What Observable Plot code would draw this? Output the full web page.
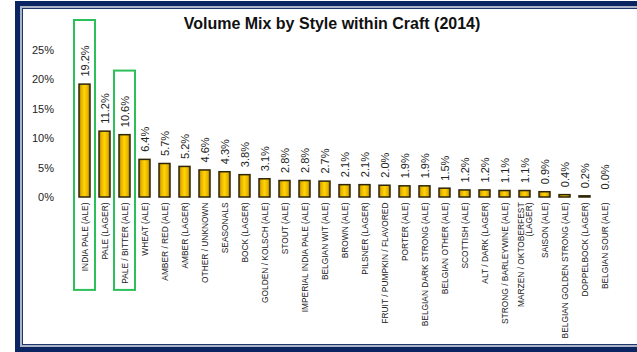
<!DOCTYPE html>
<html>
<head>
<meta charset="utf-8">
<script src="https://cdn.jsdelivr.net/npm/d3@7"></script>
<script src="https://cdn.jsdelivr.net/npm/@observablehq/plot@0.6"></script>
<style>
  html, body { margin: 0; padding: 0; background: #fff; overflow: hidden; }
  #wrap { position: relative; width: 637px; height: 352px; overflow: hidden; background: #fff; font-family: "Liberation Sans", Arial, sans-serif; }
  #chart { position: absolute; left: 0; top: 0; }
  #frame { position: absolute; left: 15px; top: 1px; width: 660px; height: 341px; border: 5px solid #0b2462; border-right: none; }
  #frame2 { position: absolute; left: 0; top: 0; right: 0; bottom: 0; border: 2px solid #aab4c6; border-right: none; }
  #frame3 { position: absolute; left: 0; top: 0; right: 0; bottom: 0; border: 1px solid #1d356c; border-right: none; }
  #title { position: absolute; left: 0; width: 664px; top: 15px; text-align: center; font-weight: bold; font-size: 16px; color: #111; }
</style>
</head>
<body>
<div id="wrap">
  <div id="chart"></div>
  <div id="frame"><div id="frame2"><div id="frame3"></div></div></div>
  <div id="title">Volume Mix by Style within Craft (2014)</div>
</div>
<script>
const categories = [
  "INDIA PALE (ALE)", "PALE (LAGER)", "PALE / BITTER (ALE)", "WHEAT (ALE)",
  "AMBER / RED (ALE)", "AMBER (LAGER)", "OTHER / UNKNOWN", "SEASONALS",
  "BOCK (LAGER)", "GOLDEN / KOLSCH (ALE)", "STOUT (ALE)", "IMPERIAL INDIA PALE (ALE)",
  "BELGIAN WIT (ALE)", "BROWN (ALE)", "PILSNER (LAGER)", "FRUIT / PUMPKIN / FLAVORED",
  "PORTER (ALE)", "BELGIAN DARK STRONG (ALE)", "BELGIAN OTHER (ALE)", "SCOTTISH (ALE)",
  "ALT / DARK (LAGER)", "STRONG / BARLEYWINE (ALE)", "MARZEN / OKTOBERFEST\n(LAGER)", "SAISON (ALE)",
  "BELGIAN GOLDEN STRONG (ALE)", "DOPPELBOCK (LAGER)", "BELGIAN SOUR (ALE)"
];
const shares = [19.2, 11.2, 10.6, 6.4, 5.7, 5.2, 4.6, 4.3, 3.8, 3.1, 2.8, 2.8, 2.7, 2.1, 2.1, 2.0, 1.9, 1.9, 1.5, 1.2, 1.2, 1.1, 1.1, 0.9, 0.4, 0.2, 0.0];
const yTicks = [0, 5, 10, 15, 20, 25];
const highlighted = ["INDIA PALE (ALE)", "PALE / BITTER (ALE)"];

const data = categories.map((c, i) => ({cat: c, v: shares[i]}));
const hl = data.filter(d => highlighted.includes(d.cat));

const font = "Liberation Sans, Arial, sans-serif";
const plot = Plot.plot({
  width: 637,
  height: 352,
  marginTop: 50,
  marginBottom: 155,
  marginLeft: 62.5,
  marginRight: 9.5,
  style: {background: "transparent", fontFamily: font, color: "#222"},
  x: {domain: categories, paddingInner: 0.43, paddingOuter: 0.215, axis: null},
  y: {domain: [0, 25], axis: null},
  marks: [
    Plot.axisY(yTicks, {tickSize: 0, tickPadding: 9, fontSize: 11, tickFormat: d => d + "%", label: null, fill: "#222"}),
    Plot.axisX({tickRotate: -90, tickSize: 0, tickPadding: 5, fontSize: 8.4, label: null, fill: "#222"}),
    Plot.ruleY([0], {stroke: "#b4b4b4", strokeWidth: 1.5, x1: categories[0], x2: categories[categories.length - 1], insetLeft: -12, insetRight: -12}),
    Plot.barY(data, {x: "cat", y: "v", fill: "url(#gold)", stroke: "#2e2608", strokeWidth: 1.5}),
    Plot.text(data, {x: "cat", y: "v", text: d => d.v.toFixed(1) + "%", rotate: -90, textAnchor: "start", lineAnchor: "middle", dy: -8, fontSize: 11, fill: "#222"}),
    Plot.barY(hl, {x: "cat", y1: -15.8, y2: d => d.v + 10.9, fill: "none", stroke: "#2dbf5a", strokeWidth: 2, insetLeft: -5, insetRight: -5})
  ]
});

const defs = d3.create("svg:defs");
const g = defs.append("linearGradient").attr("id", "gold").attr("x1", "0").attr("x2", "1").attr("y1", "0").attr("y2", "0");
[["0%", "#a77e00"], ["22%", "#e8b400"], ["50%", "#ffd400"], ["78%", "#e8b400"], ["100%", "#9a7400"]].forEach(([o, c]) => g.append("stop").attr("offset", o).attr("stop-color", c));
plot.insertBefore(defs.node(), plot.firstChild);
document.getElementById("chart").appendChild(plot);
</script>
</body>
</html>
